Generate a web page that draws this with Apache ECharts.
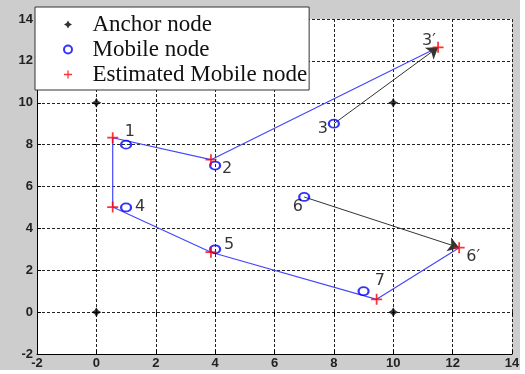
<!DOCTYPE html>
<html>
<head>
<meta charset="utf-8">
<script src="https://cdn.jsdelivr.net/npm/echarts@6/dist/echarts.min.js"></script>
<style>
  html, body { margin: 0; padding: 0; background: #ffffff; }
  #bg { position: absolute; left: 0; top: 0; width: 520px; height: 370px; background: #cdcdcd; }
  #chart { position: absolute; left: 0; top: 0; width: 525px; height: 374px; }
</style>
</head>
<body>
<div id="bg"></div>
<div id="chart"></div>
<script>
// ---- data ----
const anchorNodes = [[0, 10], [10, 10], [0, 0], [10, 0]];
const mobileNodes = [[1, 8], [4, 7], [8, 9], [1, 5], [4, 3], [7, 5.5], [9, 1]];
const estimatedNodes = [[0.55, 8.33], [3.86, 7.28], [11.51, 12.65], [0.55, 5.02], [3.86, 2.86], [12.22, 3.08], [9.44, 0.61]];
const pathOrder = [2, 1, 0, 3, 4, 6, 5];
const arrowNodes = [2, 5];
const pointLabels = [
  ['1', 1.13, 8.6], ['2', 4.4, 6.84], ['3', 7.63, 8.75], ["3\u2032", 11.2, 12.95],
  ['4', 1.47, 5.02], ['5', 4.47, 3.2], ['6', 6.79, 5.02], ["6\u2032", 12.69, 2.63], ['7', 9.55, 1.49]
];
const axisMin = -2, axisMax = 14, axisStep = 2;
const legendNames = ['Anchor node', 'Mobile node', 'Estimated Mobile node'];

// ---- symbols ----
const starPath = 'path://M0,-5 L1.8,-1.8 L5,0 L1.8,1.8 L0,5 L-1.8,1.8 L-5,0 L-1.8,-1.8 Z';
const plusPath = 'path://M-0.8,-5 L0.8,-5 L0.8,-0.8 L5,-0.8 L5,0.8 L0.8,0.8 L0.8,5 L-0.8,5 L-0.8,0.8 L-5,0.8 L-5,-0.8 L-0.8,-0.8 Z';

const chart = echarts.init(document.getElementById('chart'), null, { renderer: 'canvas' });

const gridLine = { show: true, lineStyle: { color: '#222', width: 1, type: [3, 2] } };
const tickLabel = { color: '#222', fontSize: 13, fontWeight: 'bold', fontFamily: 'Liberation Sans, Arial, sans-serif' };

const option = {
  backgroundColor: 'transparent',
  animation: false,
  grid: { left: 37, top: 19, right: 13, bottom: 20, show: true, backgroundColor: '#ffffff', borderWidth: 0 },
  legend: {
    data: [
      { name: legendNames[0], icon: starPath },
      { name: legendNames[1], icon: 'circle' },
      { name: legendNames[2], icon: plusPath }
    ],
    orient: 'vertical',
    left: 35, top: 7,
    padding: [5, 2, 3, 28],
    itemGap: 0,
    itemWidth: 9, itemHeight: 8,
    selectedMode: false,
    backgroundColor: '#ffffff',
    borderColor: '#333', borderWidth: 1,
    textStyle: { fontFamily: 'Liberation Serif, Times New Roman, serif', fontSize: 23, color: '#111', lineHeight: 25, padding: [0, 0, 0, 15] }
  },
  xAxis: [
    { type: 'value', min: axisMin, max: axisMax, interval: axisStep, position: 'bottom',
      axisLine: { show: true, onZero: false, lineStyle: { color: '#000', width: 1 } },
      axisTick: { show: true, inside: true, length: 4, lineStyle: { color: '#000' } },
      axisLabel: Object.assign({ margin: 3 }, tickLabel),
      splitLine: gridLine },
    { type: 'value', min: axisMin, max: axisMax, interval: axisStep, position: 'top',
      axisLine: { show: false }, axisTick: { show: true, inside: true, length: 4, lineStyle: { color: '#000' } },
      axisLabel: { show: false }, splitLine: { show: false } }
  ],
  yAxis: [
    { type: 'value', min: axisMin, max: axisMax, interval: axisStep, position: 'left',
      axisLine: { show: true, onZero: false, lineStyle: { color: '#000', width: 1 } },
      axisTick: { show: true, inside: true, length: 4, lineStyle: { color: '#000' } },
      axisLabel: Object.assign({ margin: 4 }, tickLabel),
      splitLine: gridLine },
    { type: 'value', min: axisMin, max: axisMax, interval: axisStep, position: 'right',
      axisLine: { show: false }, axisTick: { show: true, inside: true, length: 4, lineStyle: { color: '#000' } },
      axisLabel: { show: false }, splitLine: { show: false } }
  ],
  series: [
    { type: 'line', name: 'path', data: pathOrder.map(i => estimatedNodes[i]), symbol: 'none',
      lineStyle: { color: '#4646ff', width: 1.2 }, z: 2, silent: true },
    { type: 'lines', coordinateSystem: 'cartesian2d', name: 'arrows',
      data: arrowNodes.map(i => ({ coords: [mobileNodes[i], estimatedNodes[i]] })),
      symbol: ['none', 'arrow'], symbolSize: [0, 11],
      lineStyle: { color: '#333', width: 1, opacity: 1 }, z: 3, silent: true },
    { type: 'scatter', name: legendNames[0], data: anchorNodes, symbol: starPath, symbolSize: 10,
      itemStyle: { color: '#000' }, z: 4 },
    { type: 'scatter', name: legendNames[1], data: mobileNodes, symbol: 'circle', symbolSize: [10, 8],
      itemStyle: { color: 'rgba(255,255,255,0)', borderColor: '#0000ff', borderWidth: 2 }, z: 4 },
    { type: 'scatter', name: legendNames[2], data: estimatedNodes, symbol: plusPath, symbolSize: 11,
      itemStyle: { color: '#ff0000' }, z: 5 },
    { type: 'scatter', name: 'labels', data: pointLabels.map(d => ({ name: d[0], value: [d[1], d[2]] })),
      symbolSize: 0, z: 6, silent: true,
      label: { show: true, position: 'inside', formatter: p => p.name, color: '#000', fontSize: 16,
        fontFamily: 'DejaVu Sans, sans-serif' } }
  ]
};
chart.setOption(option);
</script>
</body>
</html>
